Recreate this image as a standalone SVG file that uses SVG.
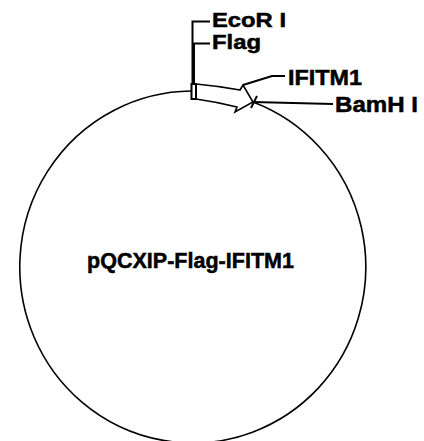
<svg xmlns="http://www.w3.org/2000/svg" width="424" height="441" viewBox="0 0 424 441">
<style>
.ln{fill:none;stroke:#000;stroke-width:2;stroke-linejoin:miter}
.bb{fill:none;stroke:#000;stroke-width:1.6}
.t{font-family:"Liberation Sans",Arial,sans-serif;font-weight:bold;font-size:22px;fill:#000;stroke:#000;stroke-width:0.5}
.s{font-size:20px}
</style>
<rect width="424" height="441" fill="#fff"/>
<g id="plasmid">
<path class="bb" d="M191,91 A173,176 0 1 0 253,102"/>
<text class="t" x="87" y="268" textLength="207" lengthAdjust="spacingAndGlyphs">pQCXIP-Flag-IFITM1</text>
</g>
<g id="flag">
<path class="ln" d="M191.5,84 L196,84 L196,99 L191.5,99 Z"/>
</g>
<g id="ifitm1">
<path class="bb" d="M196,84 Q218,86 240,90 L243,85 L253,102 L235,112 L237,107 Q217,102 196,99"/>
</g>
<g id="bamhi">
<path class="ln" d="M257,96 L251,108"/>
</g>
<g id="connectors">
<polyline class="ln" points="210,21.5 192.5,21.5 192.5,84"/>
<polyline class="ln" points="210,43.5 194,43.5 194,84"/>
<polyline class="ln" points="243,85 272,76 285,76"/>
<polyline class="ln" points="253,102 333,104"/>
</g>
<g id="labels">
<text class="t s" x="212" y="27" textLength="74" lengthAdjust="spacingAndGlyphs">EcoR I</text>
<text class="t s" x="212" y="49" textLength="49" lengthAdjust="spacingAndGlyphs">Flag</text>
<text class="t" x="288" y="85" textLength="74" lengthAdjust="spacingAndGlyphs">IFITM1</text>
<text class="t" x="335" y="112" textLength="83" lengthAdjust="spacingAndGlyphs">BamH I</text>
</g>
</svg>
